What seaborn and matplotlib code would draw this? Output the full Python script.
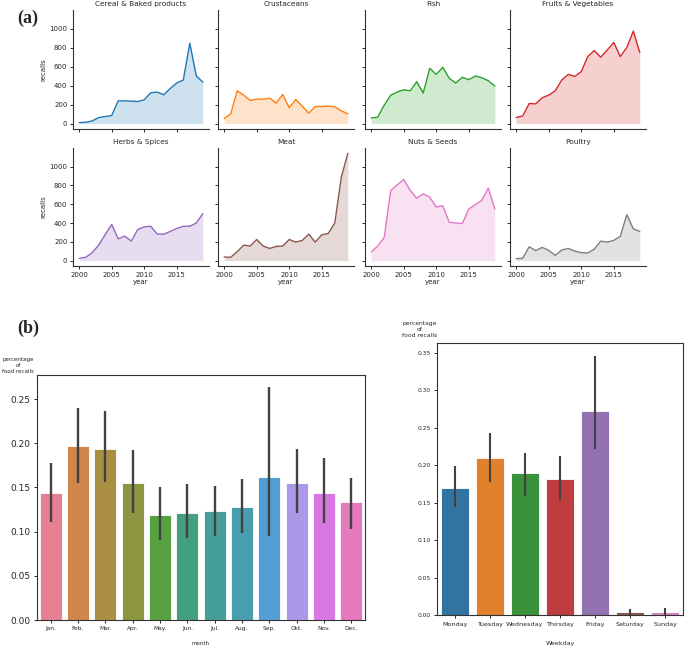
import numpy as np
import pandas as pd
import seaborn as sns
import matplotlib.pyplot as plt

# (a) yearly recalls per product category, 2000-2019
years = list(range(2000, 2020))
categories = ["Cereal & Baked products", "Crustaceans", "Fish", "Fruits & Vegetables",
              "Herbs & Spices", "Meat", "Nuts & Seeds", "Poultry"]
cereal = [10, 14, 28, 64, 74, 85, 240, 240, 237, 233, 251, 325, 332, 304, 371, 428, 459, 848, 502, 438]
crustaceans = [53, 102, 346, 300, 244, 258, 258, 268, 216, 307, 166, 254, 184, 110, 180, 180, 184, 177, 134, 102]
fish = [60, 67, 194, 300, 332, 357, 346, 442, 322, 583, 519, 594, 477, 428, 488, 463, 502, 484, 452, 396]
fruits = [64, 81, 212, 208, 272, 300, 346, 459, 519, 498, 548, 707, 770, 700, 777, 855, 707, 802, 975, 749]
herbs = [25, 35, 85, 165, 278, 384, 232, 261, 208, 331, 359, 366, 282, 282, 310, 342, 366, 366, 401, 500]
meat = [39, 35, 95, 165, 155, 225, 155, 130, 151, 155, 225, 197, 215, 282, 197, 275, 289, 401, 887, 1141]
nuts = [92, 155, 246, 746, 806, 863, 746, 665, 711, 676, 570, 584, 408, 401, 394, 549, 595, 641, 771, 549]
poultry = [21, 25, 148, 106, 141, 109, 56, 113, 130, 102, 85, 81, 123, 208, 197, 215, 257, 489, 338, 310]
series = [cereal, crustaceans, fish, fruits, herbs, meat, nuts, poultry]

# (b) share of food recalls by month and by weekday (mean, ci low, ci high)
months = ["Jan.", "Feb.", "Mar.", "Apr.", "May.", "Jun.", "Jul.", "Aug.", "Sep.", "Okt.", "Nov.", "Dec."]
month_pct = [0.144, 0.197, 0.194, 0.155, 0.119, 0.121, 0.123, 0.128, 0.162, 0.155, 0.144, 0.133]
month_lo = [0.111, 0.155, 0.156, 0.121, 0.091, 0.093, 0.095, 0.098, 0.095, 0.121, 0.110, 0.103]
month_hi = [0.178, 0.240, 0.236, 0.192, 0.150, 0.154, 0.152, 0.159, 0.264, 0.194, 0.183, 0.161]

weekdays = ["Monday", "Tuesday", "Wednesday", "Thirsday", "Friday", "Saturday", "Sunday"]
day_pct = [0.169, 0.210, 0.189, 0.182, 0.273, 0.0035, 0.0035]
day_lo = [0.144, 0.177, 0.159, 0.154, 0.222, 0.0, 0.0]
day_hi = [0.199, 0.243, 0.217, 0.213, 0.346, 0.008, 0.009]

df = pd.DataFrame({
    "category": np.repeat(categories, len(years)),
    "year": years * len(categories),
    "recalls": np.concatenate(series),
})

sns.set_style("ticks")
plt.rcParams["axes.edgecolor"] = ".2"
plt.rcParams["axes.linewidth"] = 0.8

W, H = 685, 647
fig = plt.figure(figsize=(W / 100, H / 100), dpi=100)


def box(l, t, r, b):
    return [l / W, 1 - b / H, (r - l) / W, (b - t) / H]


# ---- (a) facet of area lines
line_colors = sns.color_palette("tab10", 8)
lefts = [73, 218, 365, 510]
rows = [(10, 129), (148, 266)]
first = None
for i, cat in enumerate(categories):
    r, c = divmod(i, 4)
    ax = fig.add_axes(box(lefts[c], rows[r][0], lefts[c] + 136, rows[r][1]),
                      sharex=first, sharey=first)
    if first is None:
        first = ax
    sub = df[df["category"] == cat]
    sns.lineplot(data=sub, x="year", y="recalls", color=line_colors[i], lw=1, ax=ax)
    ax.fill_between(sub["year"], sub["recalls"], color=line_colors[i], alpha=0.22, lw=0)
    ax.set_title(cat, fontsize=5.3, pad=3, color=".15")
    ax.set_xticks([2000, 2005, 2010, 2015])
    ax.set_yticks([0, 200, 400, 600, 800, 1000])
    ax.tick_params(labelsize=5, length=2.5, width=0.7, pad=1.5)
    sns.despine(ax=ax)
    if c == 0:
        ax.set_ylabel("recalls", fontsize=5, labelpad=2)
    else:
        ax.set_ylabel("")
        ax.tick_params(labelleft=False)
    if r == 1:
        ax.set_xlabel("year", fontsize=5, labelpad=1)
    else:
        ax.set_xlabel("")
        ax.tick_params(labelbottom=False)

# ---- (b) left: month
ax = fig.add_axes(box(37, 375, 365, 620))
sns.barplot(x=months, y=month_pct, hue=months, palette="husl", legend=False,
            errorbar=None, edgecolor="white", linewidth=0.6, ax=ax)
ax.vlines(range(len(months)), month_lo, month_hi, color=".26", lw=1.7)
ax.set_xlim(-0.5, len(months) - 0.5)
ax.tick_params(axis="y", labelsize=6.5, length=2.5, width=0.7, pad=2)
ax.tick_params(axis="x", labelsize=4.2, length=2.5, width=0.7, pad=2)
ax.set_xlabel("month", fontsize=4, labelpad=7)
ax.set_ylabel("percentage\nof\nfood recalls", fontsize=4, rotation=0,
              ha="center", va="bottom", ma="center")
ax.yaxis.set_label_coords(-0.058, 1.005)

# ---- (b) right: weekday
ax = fig.add_axes(box(437, 343, 683, 615))
sns.barplot(x=weekdays, y=day_pct, hue=weekdays, palette="tab10", legend=False,
            errorbar=None, edgecolor="white", linewidth=0.6, ax=ax)
ax.vlines(range(len(weekdays)), day_lo, day_hi, color=".26", lw=1.5)
ax.set_xlim(-0.5, len(weekdays) - 0.5)
ax.tick_params(axis="y", labelsize=4.3, length=2.5, width=0.7, pad=2)
ax.tick_params(axis="x", labelsize=4.6, length=2.5, width=0.7, pad=2.5)
ax.set_xlabel("Weekday", fontsize=4.6, labelpad=10)
ax.set_ylabel("percentage\nof\nfood recalls", fontsize=4.3, rotation=0,
              ha="center", va="bottom", ma="center")
ax.yaxis.set_label_coords(-0.069, 1.02)

fig.text(17 / W, 1 - 23 / H, "(a)", fontsize=13, fontweight="bold",
         family="Liberation Serif", va="baseline")
fig.text(17 / W, 1 - 333 / H, "(b)", fontsize=13, fontweight="bold",
         family="Liberation Serif", va="baseline")

fig.savefig("out.png", dpi=100)
